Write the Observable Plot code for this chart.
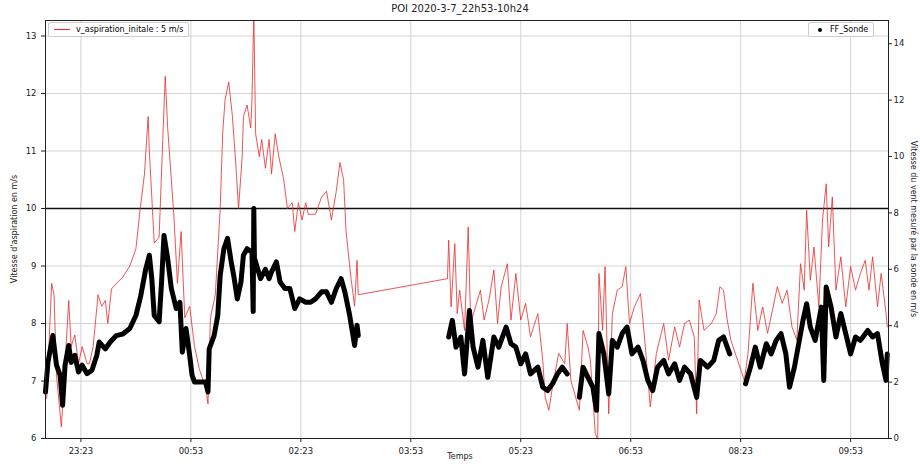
<!DOCTYPE html>
<html><head><meta charset="utf-8">
<script src="https://cdn.jsdelivr.net/npm/d3@7"></script>
<script src="https://cdn.jsdelivr.net/npm/@observablehq/plot@0.6"></script>
<style>
body{margin:0;background:#fff;font-family:"DejaVu Sans",sans-serif;}
#wrap{position:relative;width:920px;height:464px;}
.t{position:absolute;font-size:8px;color:#222;white-space:nowrap;}
.leg{position:absolute;font-size:8px;border:1px solid #ccc;background:#fff;padding:2px 5px;border-radius:2px;}
</style></head><body>
<div id="wrap"></div>
<script>
// minutes after 2020-03-07 22:53
const redT = [2,6,8,10,14,17,20,22,25,28,31,35,37,40,44,47,50,52,55,59,64,70,75,78,82,85,86,90,94,97,99,101,104,106,109,112,115,119,123,127,132,134,136,140,144,146,148,151,154,157,159,162,163,166,169,170,171.5,173,176,178,181,184,186,189,192,196,199,203,205,208,211,214,216,222,227,231,235,239,242,245,247,251,254,256,257,
330,331,333,336,338,340,344,347,349,353,357,360,364,368,371,374,379,382,386,390,394,398,404,408,410,413,416,421,426,428,431,438,441,445,447,451,453,454,457,459,462,465,469,473,476,479,483,488,492,496,501,505,507,511,516,520,524,528,532,534,536,540,546,550,553,556,559,562,573,576,580,584,588,592,596,600,604,608,612,616,619,622,624,627,630,634,637,640,642,645,648,652,656,660,664,668,672,675,678,682,685,689,690];
const redV = [6.7,8.7,8.5,7.1,6.2,7.3,8.4,7.6,7.8,7.3,7.6,7.3,7.3,7.6,8.5,8.3,8.4,8.0,8.6,8.7,8.8,9.0,9.3,9.9,10.6,11.6,11.0,9.4,9.5,11.2,12.3,11.4,10.5,9.9,8.7,9.6,8.1,8.3,7.6,7.2,6.9,6.6,8.1,8.5,10.0,11.3,11.9,12.2,11.6,10.7,10.0,10.9,11.6,11.8,11.4,11.9,13.4,11.3,10.9,11.2,10.7,11.2,10.6,11.3,10.9,10.5,10.0,10.1,9.6,10.1,9.8,10.1,9.9,9.9,10.2,10.3,9.8,10.3,10.8,10.5,9.6,8.8,8.3,9.1,8.5,
8.78,9.45,8.29,9.39,8.17,8.58,7.88,9.68,8.0,8.29,8.58,8.06,8.41,8.93,8.0,8.64,9.04,8.06,8.87,8.06,8.35,7.77,8.17,7.36,6.72,6.49,6.9,7.48,7.3,8.0,7.01,6.49,7.88,7.59,7.36,6.09,5.97,8.87,7.88,8.99,6.43,8.17,8.58,8.64,8.99,8.0,8.29,8.52,7.59,6.55,7.48,7.83,8.0,7.36,7.94,7.59,8.0,8.06,7.77,6.43,8.41,7.88,8.0,8.17,8.64,8.58,8.06,7.71,7.01,7.48,8.7,7.88,8.29,7.83,8.23,8.64,8.35,8.58,7.94,7.71,9.04,8.58,9.97,8.75,9.33,8.29,9.8,10.43,9.33,10.2,8.58,9.16,8.29,8.99,8.58,8.87,9.1,8.58,9.16,8.29,8.87,8.17,7.94];
// FF_Sonde (right axis, m/s); null = no data
const sondeT = [1,3,7,10,13,15,17,20,22,25,28,31,35,39,43,45,50,54,59,64,70,75,79,83,86,88,90,94,96,98,101,104,108,111,113,116,119,121,123,132,134,135,139,142,144,147,150,153,155,158,161,163,166,170,171,171.5,172,173,177,181,184,186,190,193,197,201,205,209,214,218,222,227,231,235,239,243,246,250,254,256,257,
290,
331,334,337,341,344,348,351,355,359,363,368,372,378,382,386,390,394,398,404,408,412,416,420,424,428,
433,
438,441,445,449,452,454,458,462,465,469,473,477,481,486,490,494,498,502,507,511,516,520,524,529,534,537,543,548,552,556,561,
567,
574,578,582,586,591,595,599,603,607,610,614,618,621,624,627,631,636,638,640,644,648,652,656,660,664,668,674,678,682,686,689,690];
const sondeV = [1.65,2.7,3.65,2.6,2.24,1.18,2.6,3.3,2.7,2.95,2.36,2.6,2.3,2.42,2.95,3.42,3.18,3.42,3.65,3.7,3.9,4.36,5.07,6.0,6.5,5.67,4.36,4.14,5.55,7.2,6.38,5.32,4.61,4.83,3.06,3.9,2.95,2.24,2.0,2.0,1.65,3.18,3.65,4.36,5.79,6.73,7.1,6.26,5.79,4.95,5.55,6.5,6.73,6.61,4.5,8.16,6.4,6.26,5.67,6.0,5.67,5.91,6.26,5.55,5.32,5.32,4.61,4.95,4.83,4.83,4.95,5.2,5.2,4.83,5.32,5.67,5.2,4.36,3.3,4.02,3.65,
null,
3.6,4.19,3.24,3.6,2.29,4.54,3.24,2.53,3.48,2.17,3.6,3.24,3.95,3.36,3.24,2.65,3.0,2.29,2.53,1.82,1.7,1.94,2.29,2.53,2.29,
null,
1.46,2.53,2.17,1.82,1.0,3.72,3.0,1.58,3.48,3.24,3.72,3.95,3.0,3.24,2.77,2.06,1.7,2.53,2.77,2.29,2.65,2.06,2.53,2.29,1.46,2.77,2.53,2.77,3.48,3.6,3.0,
null,
1.94,2.53,3.24,2.53,3.36,3.0,3.48,3.72,3.0,1.82,2.53,3.48,4.19,4.78,3.95,3.48,4.66,2.06,5.37,4.66,3.6,4.43,3.72,3.0,3.6,3.48,3.83,3.6,3.72,2.65,2.06,3.0];
const leftTicks = [6,7,8,9,10,11,12,13];
const rightTicks = [0,2,4,6,8,10,12,14];
const xTickMinutes = [30,120,210,300,390,480,570,660];
const threshold = 10;

const base = Date.UTC(2020,2,7,22,53);
const toDate = m => new Date(base + m*60000);
const R2L = v => v == null ? null : 6 + v*28.2/57.5;
const red = redT.map((t,i)=>({x:toDate(t), y:redV[i]}));
const sonde = sondeT.map((t,i)=>({x:toDate(t), y:R2L(sondeV[i])}));
const fmt = d3.utcFormat("%H:%M");

const chart = Plot.plot({
  width:920, height:464, marginTop:20, marginBottom:26, marginLeft:45, marginRight:32,
  style:{fontFamily:"DejaVu Sans", fontSize:"8.5px", color:"#222"},
  x:{type:"utc", domain:[toDate(1),toDate(691)]},
  y:{domain:[6,13.27]},
  marks:[
    Plot.gridX(xTickMinutes.map(toDate),{stroke:"#c8c8c8", strokeOpacity:1, strokeWidth:0.8}),
    Plot.gridY(leftTicks,{stroke:"#c8c8c8", strokeOpacity:1, strokeWidth:0.8}),
    Plot.axisX(xTickMinutes.map(toDate),{tickFormat:fmt, label:null, tickSize:4}),
    Plot.axisY(leftTicks,{label:null, tickSize:4, tickFormat:d=>String(d)}),
    Plot.axisY(rightTicks.map(R2L),{anchor:"right", label:null, tickSize:3, tickPadding:2, tickFormat:d=>String(Math.round((d-6)*57.5/28.2))}),
    Plot.ruleY([threshold],{stroke:"#111", strokeWidth:1.3}),
    Plot.line(red,{x:"x", y:"y", stroke:"#e8292a", strokeWidth:0.8, clip:true}),
    Plot.line(sonde,{x:"x", y:"y", stroke:"#000", strokeWidth:5, strokeLinejoin:"round"}),
    Plot.frame({stroke:"#222"})
  ]
});
const wrap = document.getElementById("wrap");
wrap.appendChild(chart);
const add=(html,css,cls="t")=>{const d=document.createElement("div");d.className=cls;d.innerHTML=html;d.style.cssText=css;wrap.appendChild(d);};
add("POI 2020-3-7_22h53-10h24","left:0;width:920px;text-align:center;top:3px;font-size:10px;");
add("Temps","left:0;width:920px;text-align:center;top:452px;");
add("Vitesse d'aspiration en m/s","left:14px;top:229px;transform:translate(-50%,-50%) rotate(-90deg);");
add("Vitesse du vent mesuré par la sonde en m/s","left:913px;top:229px;transform:translate(-50%,-50%) rotate(90deg);");
add('<span style="display:inline-block;width:16px;border-top:1px solid #e8292a;vertical-align:middle;margin-right:6px"></span>v_aspiration_initale : 5 m/s',"left:48px;top:22px;","leg");
add('<span style="display:inline-block;width:4px;height:4px;background:#000;border-radius:50%;vertical-align:middle;margin:0 8px 0 4px"></span>FF_Sonde',"left:808px;top:22px;","leg");
</script></body></html>
